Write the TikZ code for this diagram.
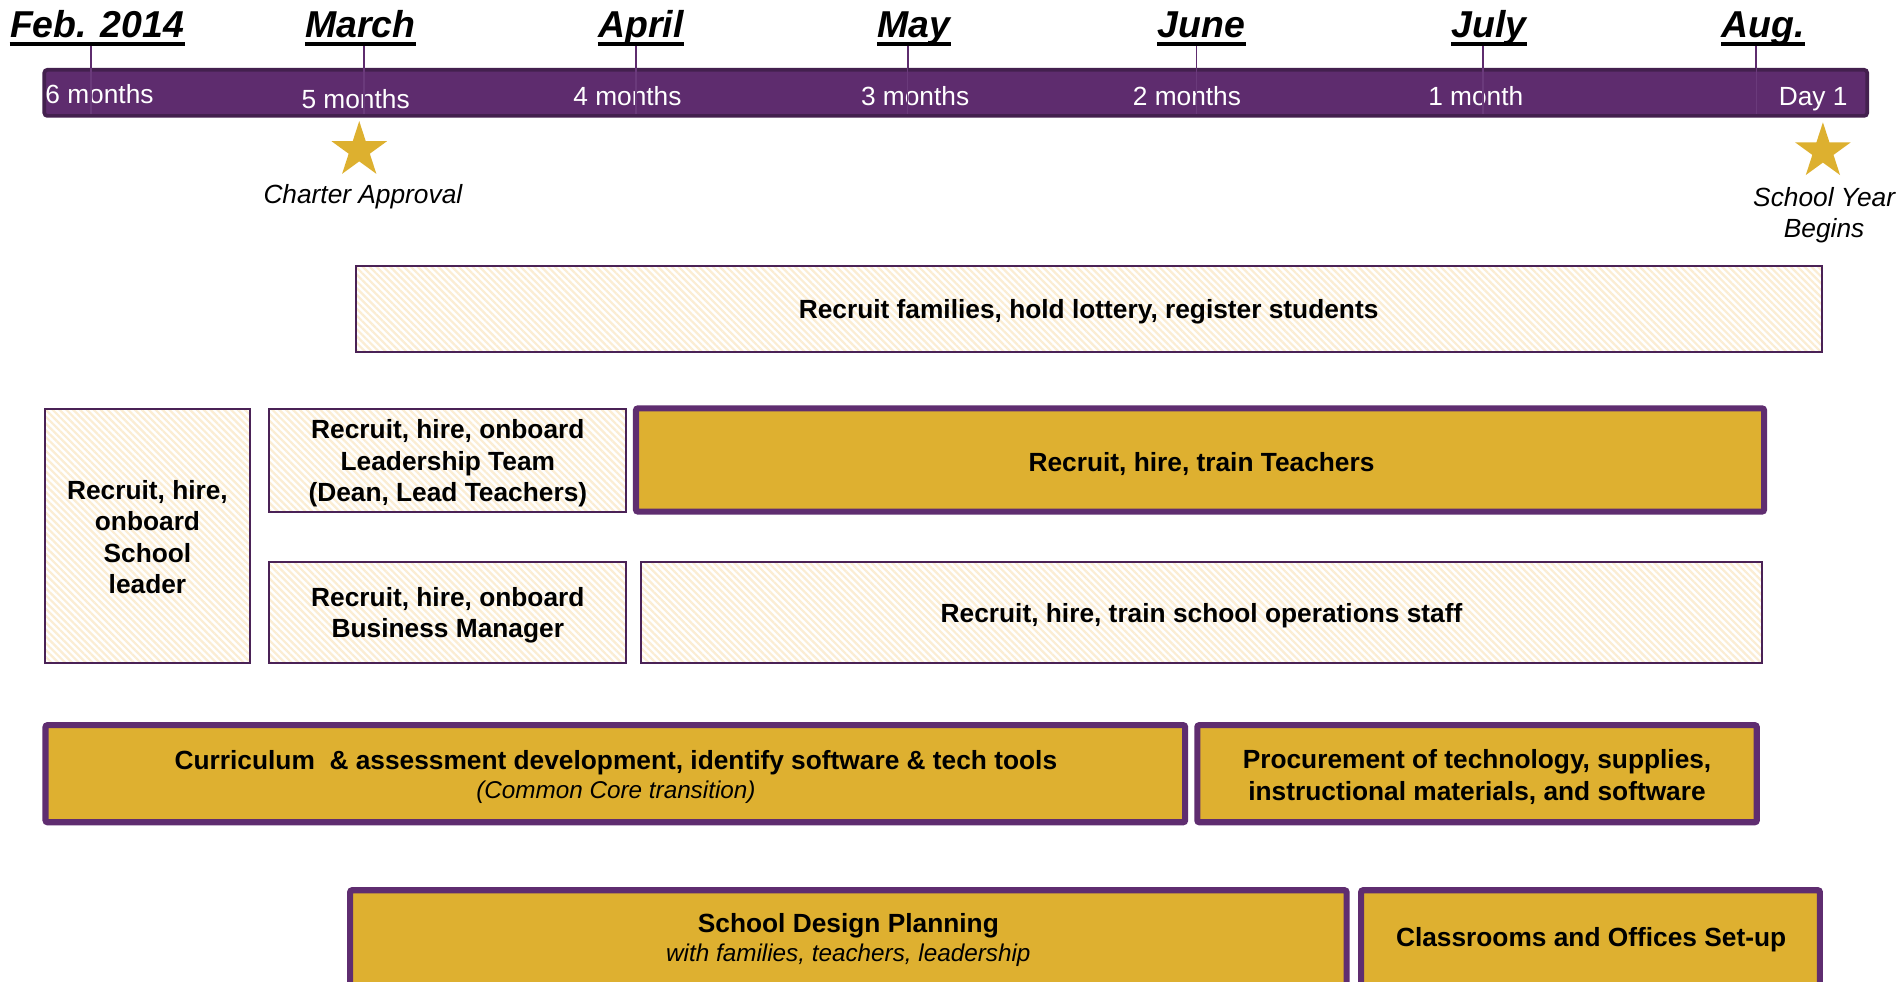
\documentclass[tikz,border=0pt]{standalone}
\usepackage{fontspec}
\setmainfont{Liberation Sans}
\usetikzlibrary{calc,shapes.geometric,patterns.meta}

\definecolor{barfill}{HTML}{5E2C6E}
\definecolor{baredge}{HTML}{43204E}
\definecolor{tickout}{HTML}{5E2C6E}
\definecolor{tickin}{HTML}{6A3A7B}
\definecolor{goldedge}{HTML}{5F2D70}
\definecolor{gold}{HTML}{DEB030}
\definecolor{stargold}{HTML}{DDB02F}
\definecolor{lineedge}{HTML}{4A2256}
\definecolor{hatch}{HTML}{FBEDD3}

\newcommand\boxfont{\fontsize{13}{15.6}\selectfont\bfseries}
\newcommand\subfont{\mdseries\itshape\fontsize{12}{14.4}\selectfont}

\tikzset{
  month/.style={font={\fontsize{18.5}{22}\selectfont\bfseries\itshape}, anchor=base, inner sep=0pt},
  underbar/.style={line width=1.9pt, black},
  count/.style={font={\fontsize{13}{15.6}\selectfont}, text=white, anchor=base, inner sep=0pt},
  tickouter/.style={draw=tickout, line width=0.8pt},
  tickinner/.style={draw=tickin, line width=0.6pt},
  note/.style={font={\fontsize{13}{15.6}\selectfont\itshape}, anchor=base, inner sep=0pt},
  lightbox/.style={draw=lineedge, line width=1pt,
    pattern={Lines[angle=-45,distance=2.4pt,line width=1.1pt]}, pattern color=hatch,
    inner sep=0pt},
  goldbox/.style={draw=goldedge, fill=gold, line width=3pt, rounded corners=1pt,
    inner sep=0pt},
  milestone/.style={star, star points=5, star point ratio=2.618, fill=stargold,
    draw=none, inner sep=0pt, minimum size=28.8pt},
  boxtext/.style={align=center, font=\boxfont, inner sep=0pt, yshift=-1.5pt},
}

\begin{document}
\begin{tikzpicture}[x=0.6pt,y=-0.6pt]
\useasboundingbox (0,0) rectangle (1568,809);
\clip (0,0) rectangle (1568,809);
\fill[white] (0,0) rectangle (1568,809);

% ---- timeline bar ----
\node[draw=baredge, fill=barfill, line width=1.8pt, rounded corners=1.5pt,
      minimum width=901.2pt, minimum height=22.8pt, inner sep=0pt] (bar) at (787.5,76.5) {};

% month headings
\node[month] (feb)   at (80,31)   {Feb. 2014};
\node[month] (mar)   at (297,31)  {March};
\node[month] (apr)   at (528,31)  {April};
\node[month] (may)   at (753,31)  {May};
\node[month] (jun)   at (990,31)  {June};
\node[month] (jul)   at (1227,31) {July};
\node[month] (aug)   at (1453,31) {Aug.};
\foreach \m in {feb,mar,apr,may,jun,jul,aug}
  \draw[underbar] ($(\m.base west)+(0,5)$) -- ($(\m.base east)+(0,5)$);

% months remaining
\node[count] (c6) at (82,85.5)   {6 months};
\node[count] (c5) at (293,89)    {5 months};
\node[count] (c4) at (517,87)    {4 months};
\node[count] (c3) at (754,87)    {3 months};
\node[count] (c2) at (978,87)    {2 months};
\node[count] (c1) at (1216,87)   {1 month};
\node[count] (d1) at (1494,87)   {Day 1};

% ticks from each heading down across the bar
\foreach \x [count=\i] in {75,300,524,748,986,1222,1447} {
  \coordinate (tk\i) at (\x,38);
  \draw[tickouter] (tk\i) -- (tk\i |- bar.north);
  \draw[tickinner] (tk\i |- bar.north) -- ($(tk\i |- bar.south)+(0,-3)$);
}

% milestones
\node[milestone] (star1) at (296,123.8) {};
\node[note] (charter) at (299,168) {Charter Approval};
\node[milestone] (star2) at (1502,124.8) {};
\node[note] (syear)  at (1503,170) {School Year};
\node[note] (begins) at (1503,196) {Begins};

% ---- task boxes ----
\node[lightbox, minimum width=724.8pt, minimum height=42.6pt] (families) at (897,254.5) {};
\node[lightbox, minimum width=101.4pt, minimum height=125.4pt] (leader) at (121.5,441.5) {};
\node[lightbox, minimum width=176.4pt, minimum height=51pt] (leadteam) at (369,379.5) {};
\node[lightbox, minimum width=176.4pt, minimum height=49.8pt] (business) at (369,504.5) {};
\node[lightbox, minimum width=554.4pt, minimum height=49.8pt] (ops) at (990,504.5) {};

\node[goldbox, minimum width=557.7pt, minimum height=51pt] (teachers) at (988.75,379) {};
\node[goldbox, minimum width=563.4pt, minimum height=48pt] (curric) at (507,637.5) {};
\node[goldbox, minimum width=276.6pt, minimum height=48pt] (procure) at (1217,637.5) {};
\node[goldbox, minimum width=492.6pt, minimum height=76.2pt] (design) at (699,797) {};
\node[goldbox, minimum width=226.8pt, minimum height=76.2pt] (setup) at (1310.5,797) {};

% ---- box captions ----
\node[boxtext] (familiestxt) at (families.center)
  {Recruit families, hold lottery, register students};
\node[boxtext, yshift=0.8pt] (leadertxt) at (leader.center)
  {Recruit, hire,\\onboard\\School\\leader};
\node[boxtext] (leadteamtxt) at (leadteam.center)
  {Recruit, hire, onboard\\Leadership Team\\(Dean, Lead Teachers)};
\node[boxtext] (businesstxt) at (business.center)
  {Recruit, hire, onboard\\Business Manager};
\node[boxtext] (opstxt) at (ops.center)
  {Recruit, hire, train school operations staff};
\node[boxtext] (teacherstxt) at (990,379.5)
  {Recruit, hire, train Teachers};
\node[boxtext] (curridtxt) at (507.5,637.5)
  {Curriculum\ \ \& assessment development, identify software \& tech tools\\[-1.2pt]
   {\subfont (Common Core transition)}};
\node[boxtext] (procuretxt) at (1217,637.5)
  {Procurement of technology, supplies,\\instructional materials, and software};
\node[boxtext] (designtxt) at (699,772)
  {School Design Planning\\[-1.2pt]{\subfont with families, teachers, leadership}};
\node[boxtext] (setuptxt) at (1311,772) {Classrooms and Offices Set-up};
\end{tikzpicture}
\end{document}
